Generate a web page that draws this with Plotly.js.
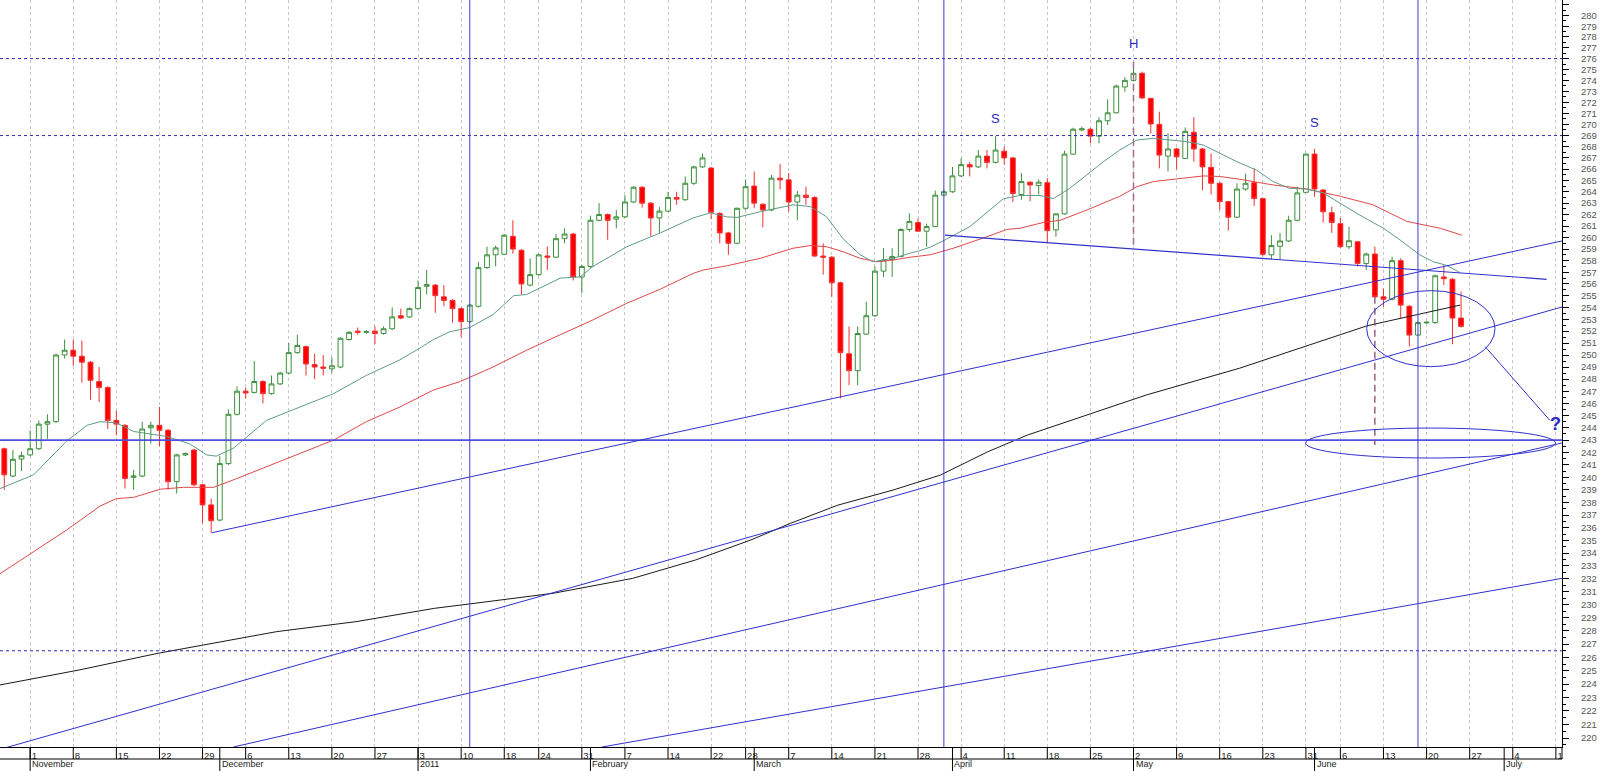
<!DOCTYPE html>
<html><head><meta charset="utf-8">
<script src="https://cdn.plot.ly/plotly-3.0.1.min.js"></script>
<style>html,body{margin:0;padding:0;background:#fff;overflow:hidden}#chart{width:1600px;height:771px}</style>
</head><body><div id="chart"></div>
<script>
// ---------- calendar ----------
const firstDay = '2010-10-27';
const lastDay = '2011-07-11';
const closedDays = ['2011-01-17', '2011-02-21', '2011-05-30'];

// ---------- daily candles (from 2010-10-27, consecutive trading days) ----------
const openVals = [242.3,240.1,241.47,241.8,242.3,244.3,244.5,250.0,250.4,249.9,249.4,247.8,247.3,244.6,244.2,240.0,240.1,244.0,244.2,243.8,
239.65,241.8,242.2,239.4,237.8,236.6,241.1,245.1,247.0,246.9,247.8,246.8,247.6,248.5,250.2,250.7,249.2,249.0,248.85,249.0,
251.3,252.0,251.9,252.0,251.8,252.2,253.3,253.2,253.9,255.8,255.9,254.9,254.6,253.9,252.8,254.1,257.4,258.5,258.55,260.1,
258.9,255.9,256.8,258.4,258.3,259.9,260.3,256.6,257.5,261.5,262.0,261.6,261.8,263.1,264.4,263.0,261.7,262.3,263.5,263.3,
264.75,266.2,266.1,262.1,260.4,259.5,262.55,264.5,262.9,262.4,265.2,265.05,263.1,263.7,263.5,258.4,258.3,256.1,250.1,248.7,
251.75,253.3,257.1,258.1,258.35,260.7,261.3,260.55,260.95,263.7,264.0,265.4,266.4,266.2,267.16,266.6,267.6,267.0,263.76,264.85,
264.55,264.8,260.66,262.06,267.34,269.5,269.57,268.95,270.33,271.05,273.4,274.0,274.65,272.36,270.0,267.16,267.8,266.96,269.3,267.8,
266.16,264.75,263.13,261.77,264.24,264.8,263.4,258.5,259.25,259.7,261.5,263.95,267.34,264.15,262.16,261.2,259.2,259.63,257.76,258.57,
254.9,254.7,258.0,254.1,251.67,252.7,252.72,256.6,256.4,253.1];
const highVals = [242.4,242.2,242.06,243.8,244.6,245.1,250.1,251.3,251.3,251.2,249.5,249.0,247.4,245.4,244.3,240.6,244.5,244.5,245.7,243.9,
241.9,242.0,242.3,239.5,238.3,241.7,245.5,247.4,247.3,249.5,247.9,248.3,248.6,251.0,251.7,250.8,250.1,250.0,249.8,251.5,
252.0,252.3,252.1,252.4,252.4,254.0,253.9,254.0,256.3,257.2,256.0,255.9,254.7,254.0,254.3,257.9,259.2,259.3,260.3,261.5,
259.0,258.2,258.6,259.2,260.3,260.8,260.4,257.6,261.9,263.0,262.1,262.4,263.7,264.5,264.5,263.1,262.65,264.0,264.0,265.35,
266.3,267.4,266.2,262.2,260.5,262.6,265.1,265.8,263.0,265.5,266.45,265.65,264.06,264.45,263.6,259.5,258.4,256.2,252.4,252.4,
254.5,257.5,259.07,259.07,260.8,262.1,261.66,261.2,264.1,264.2,266.2,266.96,266.66,267.7,267.7,268.95,268.0,267.1,265.65,264.9,
265.1,265.2,262.1,267.64,269.7,269.8,269.7,270.65,272.27,273.6,274.3,275.7,274.8,272.4,271.15,269.2,267.9,269.73,270.65,267.9,
267.4,264.85,263.2,264.75,265.6,266.07,263.5,260.2,260.4,261.9,264.45,267.4,267.8,264.24,262.7,261.7,260.94,259.7,258.7,259.2,
255.6,258.35,258.2,254.2,252.8,252.8,256.8,257.6,256.5,255.35];
const lowVals = [239.0,240.0,240.5,241.7,242.2,243.1,244.4,249.7,249.1,247.7,246.3,246.1,243.9,243.4,239.1,239.0,240.0,242.7,242.5,239.0,
238.7,241.7,239.3,236.35,235.6,236.5,241.0,245.0,246.4,246.8,246.0,246.7,247.5,248.4,250.1,248.3,248.0,248.3,248.5,248.9,
251.2,251.7,251.8,250.9,251.7,252.1,253.0,253.1,253.8,255.1,253.55,254.1,252.7,251.5,252.7,254.0,257.3,257.5,258.5,258.6,
255.1,255.8,256.7,257.2,258.2,259.5,256.3,255.2,257.4,261.4,259.8,260.8,261.7,263.0,262.6,260.1,260.4,262.2,262.85,263.2,
264.6,266.1,261.6,259.5,258.5,259.4,262.4,262.55,260.9,262.3,264.2,262.25,261.5,262.85,258.3,256.8,254.9,246.4,247.5,247.5,
251.7,253.2,256.6,256.6,258.3,260.5,260.5,259.2,260.9,263.6,263.9,265.3,265.35,266.1,266.07,266.5,266.4,263.1,263.3,263.17,
263.76,259.5,260.07,262.0,267.3,269.4,268.3,268.3,269.95,271.0,272.96,273.9,272.3,269.2,266.07,265.8,266.0,266.9,266.66,264.15,
263.76,262.4,260.6,261.7,264.1,262.75,258.35,258.1,258.1,259.6,261.4,263.9,263.56,261.3,260.4,259.1,259.0,257.48,257.2,254.8,
254.05,254.6,253.1,250.7,251.6,252.6,252.6,255.9,250.9,252.3];
const closeVals = [240.2,241.45,241.74,242.3,244.3,244.5,250.0,250.4,249.9,249.4,247.9,247.3,244.6,244.3,239.9,240.1,243.9,244.2,243.8,239.65,
241.8,241.9,239.4,237.8,236.55,241.1,245.1,247.0,246.85,247.8,246.8,247.6,248.5,250.2,250.8,249.25,249.0,248.9,249.1,251.4,
251.9,251.9,251.95,251.8,252.2,253.2,253.1,253.9,255.7,255.95,255.0,254.6,253.9,252.8,254.2,257.4,258.5,259.1,260.2,259.0,
256.0,256.8,258.5,258.3,259.9,260.3,256.6,257.5,261.5,262.0,261.5,261.8,263.1,264.4,263.0,261.7,262.3,263.5,263.35,264.75,
266.2,267.0,262.2,260.4,259.5,262.55,264.45,263.0,262.4,265.2,265.05,263.1,263.7,263.5,258.4,258.3,256.1,250.2,248.7,251.8,
253.3,257.1,258.06,258.35,260.7,261.4,260.55,260.95,263.7,264.0,265.4,266.4,266.2,267.16,266.6,267.7,267.0,263.85,264.9,264.6,
264.85,260.6,262.06,267.34,269.57,269.6,268.95,270.33,271.05,273.48,274.0,274.65,272.4,270.04,267.25,267.8,267.1,269.38,267.8,266.2,
264.75,263.13,261.77,264.24,264.75,263.4,258.55,259.3,259.7,261.5,263.9,267.34,264.24,262.25,261.3,259.2,259.72,257.76,258.57,254.9,
254.7,258.0,254.2,251.67,252.72,252.75,256.7,256.45,253.1,252.4];

// ---------- moving averages (trading-day position, value) ----------
const maShortDay = [-0.5,3.4,7.2,9.6,11.1,13.0,15.0,18.8,21.5,23.5,24.6,26.6,30.4,34.3,38.2,42.0,45.9,47.8,49.8,51.7,52.9,54.0,56.7,59.1,60.6,64.5,66.8,68.3,72.2,76.1,79.9,81.9,83.8,85.0,87.7,89.6,91.5,93.5,95.4,97.3,99.3,100.8,103.1,105.1,106.2,107.4,108.9,112.0,115.9,117.8,120.2,121.7,123.6,125.6,127.5,129.4,131.4,133.3,135.2,137.2,139.1,141.0,143.0,145.3,147.2,149.1,151.1,153.0,155.0,156.9,160.0,161.9,164.2,165.8,167.3,168.9];
const maShortVal = [239.1,240.2,242.9,244.2,244.5,244.4,243.7,243.3,242.7,241.8,241.7,242.35,244.6,245.7,246.8,248.3,249.6,250.4,251.3,251.95,252.15,252.3,253.4,255.0,255.1,256.5,256.6,257.5,259.2,260.4,261.7,262.15,261.8,261.75,262.25,262.55,262.85,262.7,261.8,259.9,258.5,257.9,258.2,258.65,258.86,259.16,259.7,260.94,263.38,263.67,263.67,263.4,264.3,265.5,266.66,267.7,268.6,268.75,268.6,268.45,268.15,267.4,266.66,265.9,264.9,264.3,264.24,263.9,263.0,262.1,260.8,259.8,258.5,257.9,257.6,256.96];
const maMidDay = [-0.5,3.8,7.2,11.1,13.0,15.0,18.1,20.8,24.3,26.6,30.4,34.3,38.2,42.0,45.9,49.8,52.9,56.7,60.6,64.5,68.3,72.2,76.1,79.9,81.1,83.8,87.7,91.5,93.5,95.4,97.3,99.3,101.2,103.1,105.1,107.4,110.1,114.0,116.3,117.8,120.5,122.5,125.6,129.4,131.4,133.3,137.2,139.1,141.0,143.35,147.2,151.1,155.0,158.8,162.7,166.6,169.1];
const maMidVal = [232.4,234.3,235.8,237.7,238.3,238.4,239.05,239.2,239.2,239.8,240.86,241.9,243.0,244.5,245.7,247.1,247.8,249.0,250.4,251.7,252.95,254.35,255.55,256.9,257.2,257.55,258.2,259.07,259.3,259.2,258.77,258.2,257.9,258.05,258.3,258.5,259.07,260.07,260.7,260.8,261.3,261.5,262.4,263.6,264.45,264.9,265.2,265.4,265.35,265.1,264.6,264.24,263.6,262.85,261.4,260.8,260.2];
const maLongDay = [-0.5,8.67,17.84,23.3,31.6,40.8,49.9,54.5,63.7,72.9,80.2,86.6,91.2,96.7,103.1,108.6,114.1,118.7,126.1,132.5,143.3,158.1,165.8,168.9];
const maLongVal = [223.93,225.05,226.31,226.94,227.95,228.71,229.73,230.11,230.89,232.04,233.47,235.03,236.34,237.78,238.98,240.18,242.06,243.41,245.19,246.69,248.9,252.45,253.7,254.2];

// ---------- drawn analysis lines (trading-day position, value) ----------
const trendADay = [24.06, 180.71], trendAVal = [235.6, 259.7];
const trendBDay = [-0.5, 180.71],  trendBVal = [219.17, 254.04];
const trendCDay = [26.58, 180.71], trendCVal = [219.34, 242.77];
const trendDDay = [69.34, 180.71], trendDVal = [219.34, 232.04];
const necklineDay = [109.13, 178.93], necklineVal = [260.2, 256.4];
const pointerDay = [171.8, 179.3], pointerVal = [250.7, 244.6];
const dashedLevels = [276, 269, 226.5];
const solidLevel = 243;
const verticalMarkerDates = ['2011-01-11', '2011-03-31', '2011-06-17'];
const headDate = '2011-05-02', headTop = 275.7, headBase = 259.0;
const targetDate = '2011-06-10', targetTop = 254.9, targetBase = 242.6;
const juneEllipse = {day:[158.05, 172.94], val:[249.03, 255.43]};
const targetEllipse = {day:[150.97, 179.96], val:[241.55, 243.98]};
const textLabels = ['S', 'H', 'S', '?'];
const textDates = ['2011-04-08', '2011-05-02', '2011-06-01', '2011-07-11'];
const textVals = [270.5, 277.4, 270.15, 244.3];

// ---------- axis labels ----------
const weekTickDates = ['2010-11-01','2010-11-08','2010-11-15','2010-11-22','2010-11-29','2010-12-06','2010-12-13','2010-12-20','2010-12-27',
'2011-01-03','2011-01-10','2011-01-18','2011-01-24','2011-01-31','2011-02-07','2011-02-14','2011-02-22','2011-02-28','2011-03-07','2011-03-14',
'2011-03-21','2011-03-28','2011-04-04','2011-04-11','2011-04-18','2011-04-25','2011-05-02','2011-05-09','2011-05-16','2011-05-23','2011-05-31',
'2011-06-06','2011-06-13','2011-06-20','2011-06-27','2011-07-04','2011-07-11'];
const weekTickLabels = ['1','8','15','22','29','6','13','20','27','3','10','18','24','31','7','14','22','28','7','14','21','28','4','11','18','25','2','9','16','23','31','6','13','20','27','4','1'];
const monthDates = ['2010-11-01','2010-12-01','2011-01-03','2011-02-01','2011-03-01','2011-04-01','2011-05-02','2011-06-01','2011-07-01'];
const monthLabels = ['November','December','2011','February','March','April','May','June','July'];
const yTickMin = 220, yTickMax = 281, yLabelMax = 280;

// ---------- build ----------
function buildDays(){
  const out = []; let t = Date.parse(firstDay + 'T00:00:00Z'); const end = Date.parse(lastDay + 'T00:00:00Z');
  while (t <= end){ const d = new Date(t); const wd = d.getUTCDay(); const s = d.toISOString().slice(0,10);
    if (wd !== 0 && wd !== 6 && closedDays.indexOf(s) < 0) out.push(s); t += 86400000; }
  return out;
}
const days = buildDays();
const pos = s => days.indexOf(s);
const candleX = openVals.map((_, i) => pos(days[i]));

const FONT = 'Liberation Sans, Arial, sans-serif';
const BLUE = 'rgb(48,48,205)';
const xRange = [-0.499, 180.71];
const plotH = 747;
const rowY = -12 / plotH, bottomY = -24 / plotH;

const traces = [];
function line(x, y, color, width, dash){ traces.push({type:'scatter', mode:'lines', x:x, y:y, line:{color:color, width:width, dash:dash||'solid'}, hoverinfo:'skip'}); }

line(maLongDay, maLongVal, '#1a1a1a', 1);
line(maMidDay, maMidVal, '#e04848', 1);
line(maShortDay, maShortVal, '#5f9b8c', 1);
dashedLevels.forEach(v => line(xRange, [v, v], '#2a2ab8', 1, '3px,3px'));
line(xRange, [solidLevel, solidLevel], 'rgb(80,80,220)', 1.6);
line(trendADay, trendAVal, BLUE, 1);
line(trendBDay, trendBVal, BLUE, 1);
line(trendCDay, trendCVal, BLUE, 1);
line(trendDDay, trendDVal, BLUE, 1);
line(necklineDay, necklineVal, BLUE, 1.2);
line(pointerDay, pointerVal, BLUE, 1);
line([pos(headDate), pos(headDate)], [headTop, headBase], '#a0708a', 1.5, '7px,4px');
line([pos(targetDate), pos(targetDate)], [targetTop, targetBase], '#8a4a72', 1.3, '7px,4px');

traces.push({type:'candlestick', x:candleX, open:openVals, high:highVals, low:lowVals, close:closeVals,
  increasing:{line:{color:'#3d8f3d', width:1}, fillcolor:'#ffffff'},
  decreasing:{line:{color:'#f03030', width:1}, fillcolor:'#ff0000'},
  whiskerwidth:0, hoverinfo:'skip'});

const shapes = [];
verticalMarkerDates.forEach(d => shapes.push({type:'line', xref:'x', yref:'paper', x0:pos(d), x1:pos(d), y0:0, y1:1, line:{color:'rgb(60,60,210)', width:1}}));
[juneEllipse, targetEllipse].forEach(e => shapes.push({type:'circle', xref:'x', yref:'y', x0:e.day[0], x1:e.day[1], y0:e.val[0], y1:e.val[1], line:{color:BLUE, width:1}}));
weekTickDates.forEach(d => shapes.push({type:'line', xref:'x', yref:'paper', x0:pos(d), x1:pos(d), y0:0, y1:rowY, line:{color:'#000', width:1}}));
monthDates.forEach(d => shapes.push({type:'line', xref:'x', yref:'paper', x0:pos(d), x1:pos(d), y0:0, y1:bottomY, line:{color:'#000', width:1}}));
shapes.push({type:'line', xref:'paper', yref:'paper', x0:0, x1:1, y0:rowY, y1:rowY, line:{color:'#000', width:1}});
shapes.push({type:'line', xref:'paper', yref:'paper', x0:1, x1:1, y0:0, y1:rowY, line:{color:'#000', width:1}});

const annotations = [];
monthDates.forEach((d, k) => annotations.push({xref:'x', yref:'paper', x:pos(d), y:bottomY, xanchor:'left', yanchor:'bottom', xshift:1, yshift:1,
  borderpad:0, text:monthLabels[k], showarrow:false, font:{family:FONT, size:9, color:'#222'}}));
textLabels.forEach((t, k) => annotations.push({xref:'x', yref:'y', x:pos(textDates[k]), y:Math.log10(textVals[k]), text:t, showarrow:false,
  font:{family:FONT, size: t === '?' ? 18 : 13, color:'#2626c0', weight: t === '?' ? 700 : 400}}));

const yTicks = [], yText = [], yMinor = [];
for (let v = yTickMin; v <= yTickMax; v++){ yTicks.push(v); yText.push(v <= yLabelMax ? String(v) : ''); }
for (let v = yTickMin - 0.5; v <= yTickMax + 0.5; v++) yMinor.push(v);

const layout = {
  width:1600, height:771, margin:{l:0, r:38, t:0, b:24, pad:0},
  paper_bgcolor:'#ffffff', plot_bgcolor:'#ffffff', showlegend:false, boxgap:0.2,
  xaxis:{type:'linear', range:xRange, tickmode:'array', tickvals:weekTickDates.map(pos), ticktext:weekTickLabels,
    showgrid:true, gridcolor:'#c6c6c6', griddash:'3px,3px', gridwidth:1, zeroline:false,
    ticks:'', showline:true, linecolor:'#000', linewidth:1, ticklabelposition:'outside right', ticklabelshift:1,
    tickfont:{family:FONT, size:9.5, color:'#222'}, rangeslider:{visible:false}, fixedrange:true},
  yaxis:{type:'log', side:'right', range:[Math.log10(219.34), Math.log10(281.45)], tickmode:'array', tickvals:yTicks, ticktext:yText,
    ticks:'outside', ticklen:6, tickcolor:'#000', tickwidth:1, showline:true, linecolor:'#000', linewidth:1,
    showgrid:false, zeroline:false, ticklabelstandoff:10, tickfont:{family:FONT, size:9.5, color:'#555'},
    minor:{tickmode:'array', tickvals:yMinor, ticks:'outside', ticklen:3, tickcolor:'#000', showgrid:false}, fixedrange:true},
  shapes:shapes, annotations:annotations
};
Plotly.newPlot('chart', traces, layout, {displayModeBar:false, staticPlot:true});
</script></body></html>
